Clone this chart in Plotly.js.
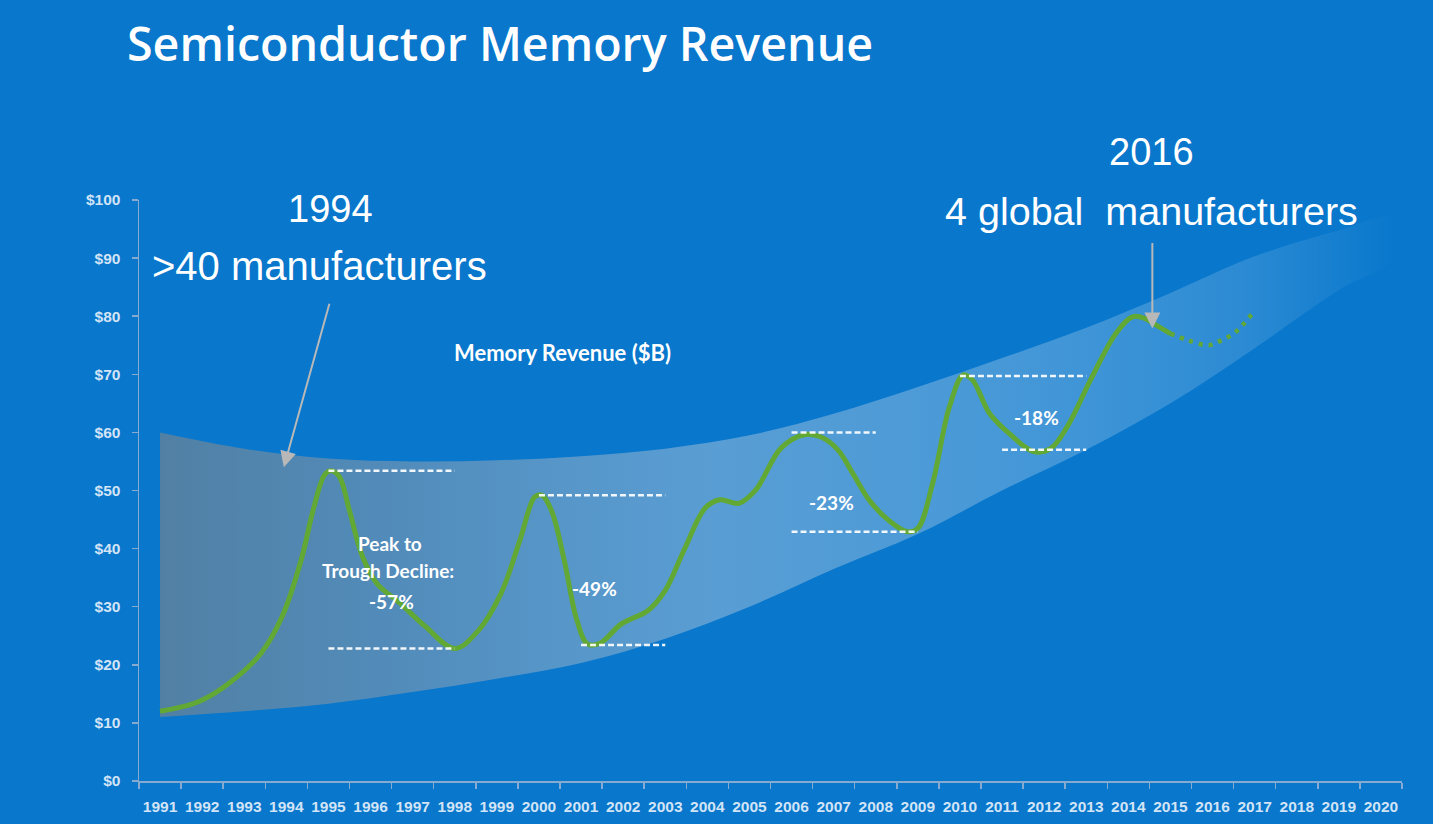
<!DOCTYPE html>
<html>
<head>
<meta charset="utf-8">
<script src="https://cdn.plot.ly/plotly-3.0.1.min.js"></script>
<style>
html,body{margin:0;padding:0;background:#0877CC;}
#chart{width:1433px;height:824px;}
</style>
</head>
<body>
<div id="chart"></div>
<script>
// ---- Data ----
// Memory revenue ($B), actual (solid) curve
const revYears = [1991.0,1991.9,1992.6,1993.4,1993.9,1994.35,1994.65,1994.9,1995.05,1995.25,1995.5,1995.8,1996.15,1996.7,1997.3,1998.0,1998.55,1999.1,1999.55,1999.9,2000.07,2000.3,2000.6,2000.9,2001.15,2001.45,2001.95,2002.6,2003.0,2003.45,2003.95,2004.3,2004.75,2005.15,2005.75,2006.3,2006.7,2007.1,2007.45,2007.85,2008.3,2008.75,2009.0,2009.35,2009.75,2010.08,2010.3,2010.7,2011.2,2011.75,2012.15,2012.55,2013.1,2013.7,2014.1,2014.4,2014.65,2015.0];
const revValues = [12,13.6,16.6,22,28.3,38,47,52.6,53.4,52.5,46.5,38.8,34,30.6,26.6,22.8,25.8,32.3,41.5,48.9,49.2,46.5,38,27.7,23.6,23.7,27,29.4,32.8,39.8,47,48.4,47.8,50.1,57.3,59.6,59.2,57,53,48.3,44.9,42.9,43.5,51.2,64.4,69.9,69,63.3,59.6,56.7,57.2,61,69,77,79.9,79.6,78.5,77];
// Forecast (dotted) continuation
const fcYears = [2015.0,2015.4,2015.9,2016.2,2016.55,2016.95];
const fcValues = [77,75.9,75,75.8,77.3,80.5];

// Shaded band (upper / lower boundaries)
const bandYears = [1991,1993,1995,1997,1999,2001,2003,2005,2007,2009,2011,2013,2015,2017,2019,2020.3];
const bandUpper = [60,57.2,55.5,55,55.2,55.9,57.2,59.5,63.2,67.8,72.8,78,84,90.3,94.8,97];
const bandLower = [11,12,13.3,15.3,17.6,20.3,24.5,30,36.5,42.5,50,57,65,74.5,84.5,90];

// Peak / trough reference lines
const refStart = [1995,1995,2000,2001,2006,2006,2010,2011];
const refEnd   = [1998,1998,2003,2003,2008,2009,2013,2013];
const refLevel = [53.4,22.8,49.2,23.4,60,42.9,69.7,57];

// Decline labels
const declineText = ['-49%','-23%','-18%'];
const declineX = [2001.31,2006.96,2011.81];
const declineY = [33.2,48.0,62.5];

// Axis ticks
const tickYears = [];
for (let y = 1991; y <= 2020; y++) tickYears.push(y);
const tickYearLabels = tickYears.map(String);
const yTicks = [0,10,20,30,40,50,60,70,80,90,100];
const yTickLabels = yTicks.map(v => '$' + v);

// ---- Figure ----
const bandX = bandYears.concat(bandYears.slice().reverse());
const bandY = bandUpper.concat(bandLower.slice().reverse());

const traces = [
  {
    x: bandX, y: bandY, type: 'scatter', mode: 'lines',
    fill: 'toself', line: {width: 0, shape: 'spline'},
    fillgradient: {
      type: 'horizontal',
      colorscale: [
        [0, 'rgba(134,134,134,0.58)'],
        [0.2, 'rgba(150,160,172,0.52)'],
        [0.45, 'rgba(200,210,222,0.42)'],
        [0.7, 'rgba(225,235,245,0.28)'],
        [0.88, 'rgba(255,255,255,0.14)'],
        [1, 'rgba(255,255,255,0.0)']
      ]
    },
    hoverinfo: 'skip', showlegend: false
  },
  {
    x: revYears, y: revValues, type: 'scatter', mode: 'lines',
    line: {color: '#62A834', width: 5, shape: 'spline', smoothing: 1},
    showlegend: false
  },
  {
    x: fcYears, y: fcValues, type: 'scatter', mode: 'lines',
    line: {color: '#62A834', width: 4.5, shape: 'spline', dash: '4px,6px'},
    showlegend: false
  }
];

const shapes = refStart.map((s, i) => ({
  type: 'line', xref: 'x', yref: 'y',
  x0: s, x1: refEnd[i], y0: refLevel[i], y1: refLevel[i],
  line: {color: 'rgba(255,255,255,0.92)', width: 2.5, dash: '6px,3px'}
}));

const yearFont = {family: 'Liberation Sans, Arial, sans-serif', size: 38, color: '#ffffff'};
const bigFont = {family: 'Liberation Sans, Arial, sans-serif', size: 40, color: '#ffffff'};
const gFont = {family: 'Liberation Sans, Arial, sans-serif', size: 39.5, color: '#ffffff'};
const boldFont = {family: 'Lato, Open Sans, sans-serif', size: 19, color: '#ffffff', weight: 'bold'};
const legendFont = {family: 'Lato, Open Sans, sans-serif', size: 22, color: '#ffffff', weight: 'bold'};

const annotations = [
  {x: 1995.04, y: 98.4, text: '1994', showarrow: false, font: yearFont},
  {x: 1994.79, y: 88.6, text: '>40 manufacturers', showarrow: false, font: bigFont},
  {x: 2014.56, yref: 'paper', y: (781 - 152) / 581, yanchor: 'middle', text: '2016', showarrow: false, font: yearFont},
  {x: 2014.54, y: 98.1, text: '4 global&nbsp;&nbsp;manufacturers', showarrow: false, font: gFont},
  {x: 2000.55, y: 73.8, text: 'Memory Revenue ($B)', showarrow: false, font: legendFont},
  {x: 1996.46, y: 40.9, text: 'Peak to', showarrow: false, font: boldFont},
  {x: 1996.42, y: 36.3, text: 'Trough Decline:', showarrow: false, font: boldFont},
  {x: 1996.5, y: 30.9, text: '-57%', showarrow: false, font: boldFont},
  // arrows
  {x: 1993.94, y: 54.0, ax: 46, ay: -165, axref: 'pixel', ayref: 'pixel', text: '', showarrow: true,
   arrowhead: 2, arrowsize: 1.6, arrowwidth: 2, arrowcolor: '#b8b8b8'},
  {x: 2014.57, y: 77.9, ax: 0, ay: -87, axref: 'pixel', ayref: 'pixel', text: '', showarrow: true,
   arrowhead: 2, arrowsize: 1.6, arrowwidth: 2, arrowcolor: '#b8b8b8'}
].concat(declineText.map((t, i) => ({
  x: declineX[i], y: declineY[i], text: t, showarrow: false, font: boldFont
})));

const axisColor = '#86aad0';
const tickFont = {family: 'Liberation Sans Narrow, Arial Narrow, sans-serif', size: 15.5, color: '#d2e4f6', weight: 'bold'};

const layout = {
  width: 1433, height: 824,
  paper_bgcolor: '#0877CC', plot_bgcolor: '#0877CC',
  margin: {l: 139, r: 31, t: 200, b: 43},
  title: {
    text: 'Semiconductor Memory Revenue',
    xref: 'container', yref: 'container',
    x: 127/1433, xanchor: 'left', y: 1 - 45/824, yanchor: 'middle',
    font: {family: 'Open Sans, Noto Sans, sans-serif', size: 46.6, color: '#ffffff', weight: 600}
  },
  xaxis: {
    range: [1990.5, 2020.5], tickmode: 'array', tickvals: tickYears, ticktext: tickYearLabels,
    ticks: '', showgrid: false, zeroline: false,
    showline: true, linecolor: axisColor, linewidth: 1.5,
    tickfont: tickFont, ticklabelstandoff: 11,
    minor: {tick0: 0.5, dtick: 1, ticks: 'outside', ticklen: 6, tickcolor: axisColor, tickwidth: 1.5, showgrid: false},
    fixedrange: true
  },
  yaxis: {
    range: [0, 100], tickmode: 'array', tickvals: yTicks, ticktext: yTickLabels,
    ticks: 'outside', ticklen: 6, tickcolor: axisColor, tickwidth: 1.5,
    showgrid: false, zeroline: false,
    showline: true, linecolor: axisColor, linewidth: 1.5,
    tickfont: tickFont, ticklabelstandoff: 8,
    fixedrange: true
  },
  shapes: shapes,
  annotations: annotations,
  showlegend: false
};

Plotly.newPlot('chart', traces, layout, {displayModeBar: false, staticPlot: true});
</script>
</body>
</html>
